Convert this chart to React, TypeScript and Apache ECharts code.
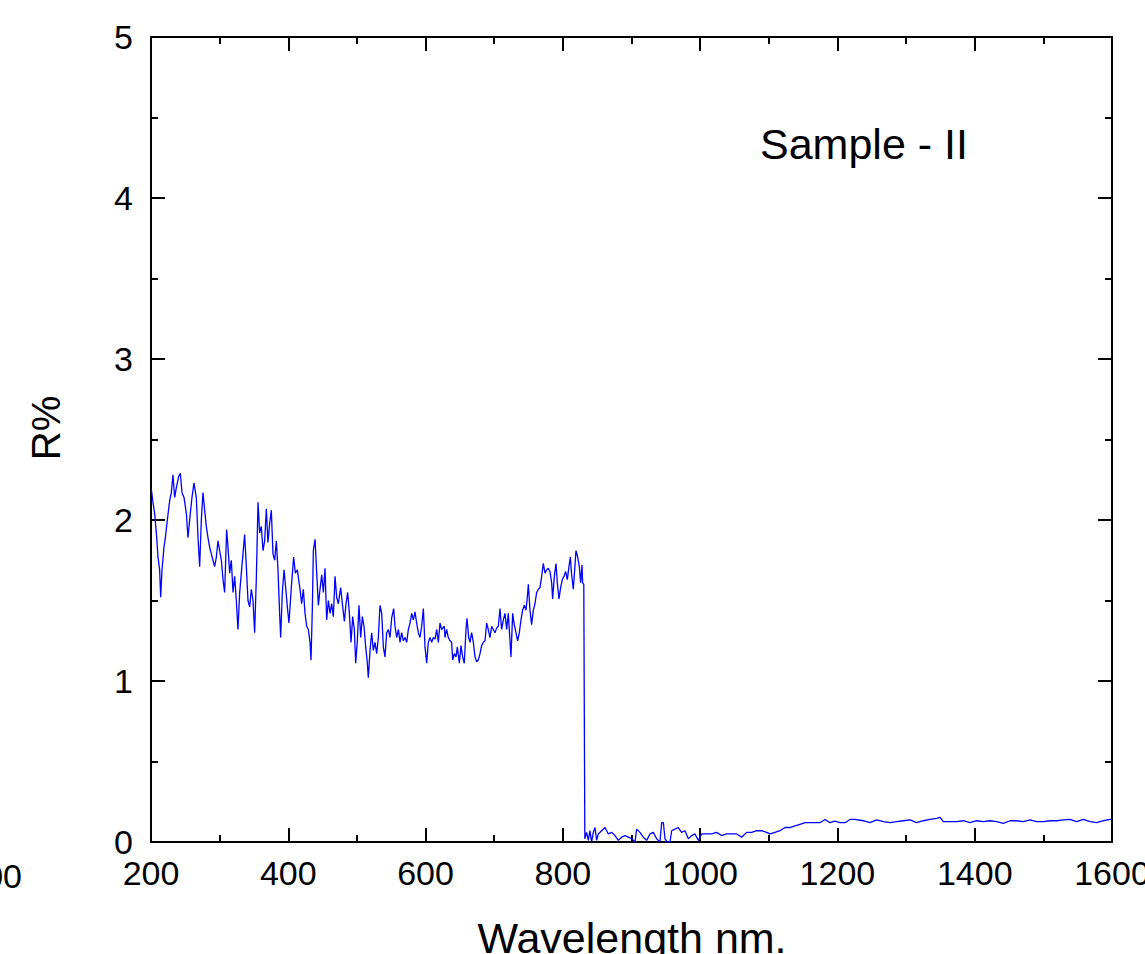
import React, { useEffect, useRef } from "react";
import * as echarts from "echarts";

const wavelengths: number[] = [
  200.5, 202.9, 205.3, 207.8, 210.2, 212.6, 214.1, 216.0, 218.9, 220.9, 223.8, 227.2, 229.6, 232.0, 234.5, 236.9,
  240.3, 242.7, 245.2, 248.1, 251.5, 253.9, 256.3, 259.7, 262.6, 266.0, 268.5, 270.9, 273.3, 275.7, 278.2, 280.6,
  283.0, 285.5, 287.9, 290.3, 292.7, 295.2, 297.6, 300.0, 302.5, 304.9, 307.3, 310.2, 312.2, 314.6, 317.0, 319.5,
  321.9, 324.3, 326.7, 329.2, 331.6, 334.0, 336.4, 338.9, 341.3, 343.7, 346.2, 348.6, 351.0, 353.4, 355.9, 358.3,
  360.7, 363.2, 365.6, 368.0, 370.4, 372.9, 375.3, 377.7, 380.2, 382.6, 385.0, 387.4, 388.9, 391.3, 393.8, 396.2,
  398.6, 401.0, 404.4, 407.8, 410.3, 413.2,
  417.1, 419.5, 421.9, 424.4, 426.8, 429.2, 431.7, 433.1, 435.1, 436.5, 439.0, 441.4, 443.8, 446.2, 448.7, 451.1,
  453.5, 455.9, 458.4, 460.8, 463.2, 465.6, 468.1, 470.5, 472.9, 476.3, 478.8, 481.7, 484.1, 486.5, 489.0, 491.4,
  493.8, 496.2, 498.2, 500.6, 503.0, 505.5, 507.9, 510.3, 512.8, 515.2, 516.6, 519.1, 521.5, 523.9, 526.3, 528.8,
  531.2, 533.6, 536.1, 538.5, 540.9, 543.3, 545.8, 548.2, 550.6, 553.5, 555.5, 557.9, 560.4, 562.8, 565.2, 567.6,
  570.1, 572.5, 574.9, 577.3, 579.8, 582.2, 584.6, 587.0, 589.5, 591.9, 594.3, 596.8, 599.2, 601.6, 604.0, 606.5,
  608.9, 611.3, 613.8, 616.2, 618.6, 621.0, 623.5, 627.3,
  628.3, 630.7, 633.1, 635.6, 638.0, 639.5, 641.9, 644.3, 646.3, 649.2, 651.6, 654.0, 656.4, 658.9, 660.3, 662.8,
  664.7, 667.1, 669.6, 672.0, 674.4, 676.8, 679.3, 681.7, 684.1, 686.6, 689.0, 691.4, 693.8, 696.3, 698.7, 701.1,
  703.6, 706.0, 708.4, 710.8, 713.3, 715.7, 718.1, 720.5, 723.0, 724.4, 726.9, 728.8, 731.7, 734.1, 736.6, 739.0,
  741.4, 743.9, 746.3, 748.2, 749.7, 752.1, 754.5, 757.0, 759.4, 761.8, 764.3, 766.7, 769.1, 771.5, 774.0, 776.4,
  778.8, 781.2, 783.7, 785.1, 787.6, 790.0, 791.9, 794.4, 796.8, 799.2, 801.6, 804.1, 806.5, 808.9, 810.9, 812.8,
  815.2, 817.2, 819.1, 821.6, 824.0, 825.9, 827.9, 828.8, 830.5, 832.0,
  834.6, 837.1, 839.5, 841.9, 844.4, 846.8, 849.2, 851.6, 856.5, 861.4, 866.2, 871.1, 875.9, 880.8, 885.6, 890.5,
  895.4, 900.2, 905.1, 907.5, 912.3, 917.2, 922.1, 926.9, 931.8, 936.6, 941.5, 943.9, 946.4, 948.8, 952.2, 956.1,
  958.5, 963.3, 968.2, 973.0, 977.9, 982.8, 987.6, 992.5, 997.3, 1002.2, 1009.5, 1016.7, 1024.0, 1031.3, 1038.6, 1045.9,
  1053.2, 1060.5, 1067.7, 1075.0, 1082.3, 1089.6, 1096.9, 1101.7, 1109.0, 1116.3, 1123.6, 1130.9, 1138.1, 1145.4, 1152.7, 1160.0,
  1167.3, 1174.6, 1181.9, 1189.1, 1196.4, 1203.7, 1211.0, 1218.3, 1225.6,
  1237.7, 1247.4, 1257.1, 1266.9, 1276.6, 1286.3, 1296.0, 1305.7, 1315.4, 1325.1, 1334.8, 1344.6, 1349.4, 1354.3, 1364.0, 1373.7,
  1383.4, 1393.1, 1402.8, 1412.5, 1422.3, 1432.0, 1441.7, 1451.4, 1461.1, 1470.8, 1480.5, 1490.2, 1500.0, 1509.7, 1519.4, 1529.1,
  1538.8, 1548.5, 1558.2, 1568.0, 1577.7, 1587.4, 1597.1, 1600.0,
];

const reflectance: number[] = [
  2.19, 2.11, 2.04, 1.92, 1.77, 1.69, 1.52, 1.69, 1.83, 1.89, 2.0, 2.12, 2.17, 2.28, 2.14, 2.2,
  2.27, 2.29, 2.17, 2.14, 2.04, 1.89, 2.0, 2.14, 2.23, 2.14, 1.89, 1.71, 2.0, 2.17, 2.06, 1.96,
  1.89, 1.83, 1.79, 1.75, 1.71, 1.77, 1.87, 1.81, 1.75, 1.63, 1.55, 1.94, 1.83, 1.67, 1.75, 1.55,
  1.65, 1.5, 1.32, 1.55, 1.67, 1.79, 1.91, 1.71, 1.5, 1.46, 1.57, 1.5, 1.3, 1.63, 2.11, 1.92,
  1.96, 1.81, 1.87, 2.07, 1.86, 1.98, 2.06, 1.79, 1.75, 1.87, 1.69, 1.42, 1.27, 1.55, 1.69, 1.58,
  1.46, 1.36, 1.58, 1.77, 1.67, 1.69,
  1.57, 1.48, 1.57, 1.42, 1.34, 1.32, 1.24, 1.13, 1.46, 1.81, 1.88, 1.67, 1.47, 1.57, 1.66, 1.55,
  1.7, 1.38, 1.5, 1.42, 1.48, 1.4, 1.65, 1.52, 1.48, 1.58, 1.48, 1.37, 1.48, 1.55, 1.42, 1.24,
  1.4, 1.32, 1.11, 1.25, 1.47, 1.27, 1.4, 1.34, 1.21, 1.11, 1.02, 1.19, 1.3, 1.19, 1.24, 1.17,
  1.27, 1.47, 1.42, 1.21, 1.15, 1.3, 1.32, 1.27, 1.39, 1.45, 1.34, 1.27, 1.32, 1.24, 1.3, 1.25,
  1.27, 1.24, 1.32, 1.36, 1.42, 1.38, 1.43, 1.36, 1.3, 1.27, 1.34, 1.45, 1.21, 1.11, 1.24, 1.27,
  1.24, 1.27, 1.26, 1.32, 1.24, 1.36, 1.32, 1.34,
  1.27, 1.32, 1.27, 1.25, 1.24, 1.13, 1.17, 1.15, 1.21, 1.11, 1.22, 1.15, 1.11, 1.32, 1.39, 1.27,
  1.24, 1.3, 1.24, 1.15, 1.12, 1.13, 1.17, 1.22, 1.24, 1.25, 1.36, 1.32, 1.27, 1.34, 1.32, 1.3,
  1.33, 1.34, 1.45, 1.32, 1.38, 1.42, 1.32, 1.42, 1.25, 1.15, 1.42, 1.36, 1.3, 1.25, 1.3, 1.38,
  1.44, 1.47, 1.44, 1.52, 1.6, 1.44, 1.35, 1.44, 1.48, 1.55, 1.57, 1.58, 1.65, 1.73, 1.67, 1.69,
  1.7, 1.68, 1.61, 1.51, 1.65, 1.73, 1.61, 1.51, 1.58, 1.63, 1.65, 1.68, 1.63, 1.71, 1.77, 1.66,
  1.57, 1.69, 1.81, 1.77, 1.71, 1.61, 1.72, 1.61, 1.6, 0.02,
  0.06, 0.01, 0.07, 0.0, 0.06, 0.09, 0.01, 0.05, 0.07, 0.09, 0.05, 0.06, 0.04, 0.01, 0.03, 0.04,
  0.03, 0.02, 0.0, 0.08, 0.06, 0.03, 0.01, 0.05, 0.06, 0.02, 0.0, 0.12, 0.12, 0.02, 0.0, 0.0,
  0.07, 0.08, 0.09, 0.06, 0.07, 0.02, 0.04, 0.05, 0.01, 0.05, 0.05, 0.05, 0.06, 0.04, 0.05, 0.05,
  0.05, 0.03, 0.06, 0.06, 0.07, 0.07, 0.06, 0.05, 0.06, 0.07, 0.09, 0.09, 0.1, 0.11, 0.12, 0.12,
  0.12, 0.12, 0.14, 0.12, 0.13, 0.12, 0.12, 0.14, 0.14,
  0.132, 0.12, 0.137, 0.126, 0.12, 0.126, 0.132, 0.137, 0.12, 0.132, 0.141, 0.147, 0.153, 0.126, 0.126, 0.126,
  0.132, 0.12, 0.132, 0.126, 0.132, 0.126, 0.116, 0.132, 0.132, 0.126, 0.137, 0.126, 0.126, 0.132, 0.132, 0.137,
  0.141, 0.126, 0.141, 0.126, 0.12, 0.132, 0.141, 0.14,
];

const X_MIN = 200;
const X_MAX = 1600;
const X_STEP = 200;
const Y_MIN = 0;
const Y_MAX = 5;
const Y_STEP = 1;

const sampleLabel = "Sample - II";
const xTitle = "Wavelength nm.";
const yTitle = "R%";

const FONT = "'Liberation Sans', Arial, Helvetica, sans-serif";

export default function App() {
  const ref = useRef<HTMLDivElement>(null);

  useEffect(() => {
    if (!ref.current) return;
    const chart = echarts.init(ref.current, undefined, { renderer: "svg", width: 1145, height: 954 });
    const data = wavelengths.map((w, i) => [w, reflectance[i]]);

    const axisLine = { show: true, onZero: false, lineStyle: { color: "#000", width: 2 } };
    const axisTick = { show: true, inside: true, length: 14, lineStyle: { color: "#000", width: 2 } };
    const minorTick = { show: true, splitNumber: 2, length: 7, lineStyle: { color: "#000", width: 2 } };
    const labelStyle = { color: "#000", fontSize: 34, fontFamily: FONT, formatter: (v: number) => String(v) };

    chart.setOption({
      animation: false,
      backgroundColor: "#fff",
      grid: {
        left: 151,
        top: 37,
        width: 961,
        height: 805,
        containLabel: false,
        outerBoundsMode: "none",
      },
      xAxis: [
        {
          type: "value",
          min: X_MIN,
          max: X_MAX,
          interval: X_STEP,
          position: "bottom",
          axisLine,
          axisTick,
          minorTick,
          splitLine: { show: false },
          axisLabel: { ...labelStyle, margin: 14, hideOverlap: false },
        },
        {
          type: "value",
          min: X_MIN,
          max: X_MAX,
          interval: X_STEP,
          position: "top",
          axisLine,
          axisTick,
          minorTick,
          splitLine: { show: false },
          axisLabel: { show: false },
        },
      ],
      yAxis: [
        {
          type: "value",
          min: Y_MIN,
          max: Y_MAX,
          interval: Y_STEP,
          position: "left",
          axisLine,
          axisTick,
          minorTick,
          splitLine: { show: false },
          axisLabel: { ...labelStyle, margin: 18 },
        },
        {
          type: "value",
          min: Y_MIN,
          max: Y_MAX,
          interval: Y_STEP,
          position: "right",
          axisLine,
          axisTick,
          minorTick,
          splitLine: { show: false },
          axisLabel: { show: false },
        },
      ],
      series: [
        {
          type: "line",
          xAxisIndex: 0,
          yAxisIndex: 0,
          data,
          showSymbol: false,
          symbol: "none",
          lineStyle: { color: "#0000ff", width: 1.3 },
          z: 1,
        },
      ],
      graphic: [
        {
          type: "text",
          left: 760,
          top: 122,
          style: { text: sampleLabel, fill: "#000", font: `43px ${FONT}` },
        },
        {
          type: "text",
          x: 46,
          y: 428,
          rotation: Math.PI / 2,
          style: { text: yTitle, fill: "#000", font: `40px ${FONT}`, textAlign: "center", textVerticalAlign: "middle" },
        },
        {
          type: "text",
          x: 632,
          y: 938,
          style: { text: xTitle, fill: "#000", font: `43px ${FONT}`, textAlign: "center", textVerticalAlign: "middle" },
        },
        {
          type: "text",
          x: 22,
          y: 876,
          style: { text: "1600", fill: "#000", font: `34px ${FONT}`, textAlign: "right", textVerticalAlign: "middle" },
        },
        {
          type: "text",
          x: 1162,
          y: 428,
          rotation: Math.PI / 2,
          style: { text: yTitle, fill: "#000", font: `40px ${FONT}`, textAlign: "center", textVerticalAlign: "middle" },
        },
      ],
    });

    return () => chart.dispose();
  }, []);

  return (
    <div
      ref={ref}
      style={{ position: "fixed", left: 0, top: 0, width: 1145, height: 954, background: "#fff" }}
    />
  );
}
